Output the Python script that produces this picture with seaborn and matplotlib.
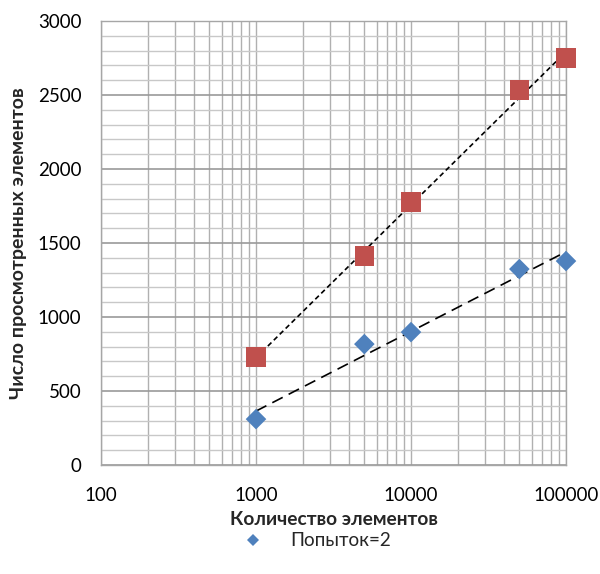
import numpy as np
import pandas as pd
import matplotlib
matplotlib.use("Agg")
import matplotlib.pyplot as plt
from matplotlib.lines import Line2D
from matplotlib.ticker import FixedLocator, NullFormatter, MultipleLocator
import seaborn as sns

# Data
sizes = [1000, 5000, 10000, 50000, 100000]
viewed_2 = [310, 817, 898, 1324, 1378]
viewed_other = [730, 1412, 1777, 2534, 2750]
series_names = ["Попыток=2", "Попыток=1"]
x_ticks = [100, 1000, 10000, 100000]
x_tick_labels = ["100", "1000", "10000", "100000"]
y_ticks = [0, 500, 1000, 1500, 2000, 2500, 3000]

df = pd.DataFrame({
    "x": sizes * 2,
    "y": viewed_2 + viewed_other,
    "series": [series_names[0]] * len(sizes) + [series_names[1]] * len(sizes),
})

sns.set_theme(style="white")
plt.rcParams["font.family"] = ["Lato", "DejaVu Sans"]

blue = "#4F81BD"
red = "#C0504D"
grid_major = "#9a9a9a"
grid_minor = "#c8c8c8"

fig = plt.figure(figsize=(6.0, 5.74), dpi=100)
ax = fig.add_axes([101 / 600, 1 - 465 / 574, 465 / 600, 444 / 574])

ax.set_xscale("log")
ax.set_xlim(100, 100000)
ax.set_ylim(0, 3000)

# gridlines
ax.yaxis.set_major_locator(FixedLocator(y_ticks))
ax.yaxis.set_minor_locator(MultipleLocator(100))
ax.xaxis.set_major_locator(FixedLocator(x_ticks))
minor_x = [m * 10 ** e for e in (2, 3, 4) for m in range(2, 10)]
ax.xaxis.set_minor_locator(FixedLocator(minor_x))
ax.xaxis.set_minor_formatter(NullFormatter())
ax.set_xticklabels(x_tick_labels)
ax.grid(which="minor", axis="y", color=grid_minor, lw=1.0, zorder=0)
ax.grid(which="major", axis="y", color=grid_major, lw=1.2, zorder=0)
ax.grid(which="both", axis="x", color="#b0b0b0", lw=1.0, zorder=0)
ax.set_axisbelow(True)
for s in ax.spines.values():
    s.set_color("#a6a6a6")
    s.set_linewidth(1.0)

ax.tick_params(which="both", length=0)
ax.tick_params(axis="y", labelsize=13.5, pad=14, colors="black")
ax.tick_params(axis="x", labelsize=13.5, pad=16, colors="black")

# logarithmic trend lines
sns.regplot(data=df[df.series == series_names[1]], x="x", y="y", logx=True,
            ci=None, scatter=False, truncate=True, ax=ax,
            line_kws=dict(color="black", lw=1.2, dashes=(3, 2)))
sns.regplot(data=df[df.series == series_names[0]], x="x", y="y", logx=True,
            ci=None, scatter=False, truncate=True, ax=ax,
            line_kws=dict(color="black", lw=1.2, dashes=(7, 4)))

# points
sns.scatterplot(data=df[df.series == series_names[1]], x="x", y="y",
                marker="s", s=190, color=red, edgecolor="none", ax=ax,
                legend=False, zorder=3, clip_on=False)
sns.scatterplot(data=df[df.series == series_names[0]], x="x", y="y",
                marker="D", s=110, color=blue, edgecolor="none", ax=ax,
                legend=False, zorder=3, clip_on=False)

ax.set_xlabel("Количество элементов", fontsize=13.8, fontweight="bold",
              labelpad=5)
ax.set_ylabel("Число просмотренных элементов", fontsize=14, fontweight="bold",
              labelpad=8)

handle = Line2D([], [], marker="D", color=blue, linestyle="none",
                markersize=6, markeredgewidth=0)
fig.legend([handle], [series_names[0]], loc="center",
           bbox_to_anchor=(312.5 / 600, 1 - 541 / 574), frameon=False,
           fontsize=13.6, handletextpad=1.0)

fig.savefig("out.png", dpi=100)
